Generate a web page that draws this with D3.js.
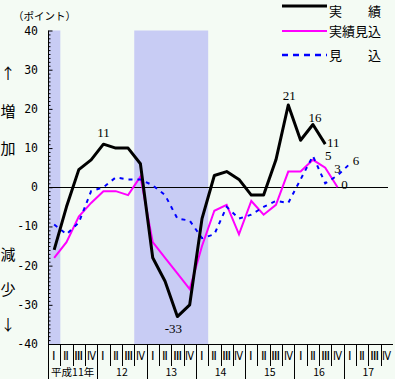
<!DOCTYPE html>
<html><head><meta charset="utf-8">
<script src="https://cdn.jsdelivr.net/npm/d3@7"></script>
<style>html,body{margin:0;padding:0;background:#f4fbf4;}svg{display:block;}</style>
</head><body>
<script>
// ---- data ----
const years = ["平成11年","12","13","14","15","16","17"];
const quarterLabels = ["Ⅰ","Ⅱ","Ⅲ","Ⅳ"];
const yTicks = [40,30,20,10,0,-10,-20,-30,-40];
// 実績 (actual)
const actual = [-16,-5,4.5,7,11,10,10,6,-18,-24,-33,-30,-8,3,4,2,-2,-2,7,21,12,16,11];
// 実績見込 (actual estimate)
const actualEst = [-18,-14,-7.5,-4,-1,-1,-2,2.7,-14,-18,-22,-26,-15,-6,-4.5,-12,-3.5,-7,-4.5,4,4,7,5,0];
// 見込 (forecast)
const forecast = [-9.5,-12,-9,-1,0,2.5,2,2,0.5,-2,-8,-8.5,-13,-12,-5,-8,-7,-5,-3.5,-4,2,8,1,3,6];
// shaded periods (quarter index ranges, inclusive)
const shaded = [[0,0],[7,12]];
const seriesNames = ["実　　績","実績見込","見　　込"];
const labelText = ["11","-33","21","16","11","5","3","0","6"];

const W=395,H=379;
const svg=d3.select("body").append("svg").attr("width",W).attr("height",H);
svg.append("rect").attr("width",W).attr("height",H).attr("fill","#f4fbf4");

const nQ = years.length*4;
const x = d3.scaleLinear().domain([0,nQ]).range([48,393]);
const y = d3.scaleLinear().domain([-40,40]).range([344,30.5]);
const cx = i => x(i+0.5);

// shaded bands
svg.selectAll("rect.band").data(shaded).join("rect").attr("class","band")
  .attr("x",d=>x(d[0])).attr("width",d=>x(d[1]+1)-x(d[0]))
  .attr("y",y(40)).attr("height",y(-40)-y(40)).attr("fill","#c8ccf4");

// zero line
svg.append("line").attr("x1",x(0)).attr("x2",388).attr("y1",Math.round(y(0))+0.5).attr("y2",Math.round(y(0))+0.5)
  .attr("stroke","#000").attr("stroke-width",1);

// y axis
const yAxis = d3.axisRight(y).tickValues(d3.range(-40,41,1)).tickSize(2).tickFormat("");
const yg = svg.append("g").attr("transform","translate(48.5,0)").call(yAxis);
yg.select(".domain").remove();
yg.selectAll(".tick line").attr("stroke","#000").attr("x2",d=>d%10===0?4:2);
svg.append("line").attr("x1",48.5).attr("x2",48.5).attr("y1",y(40)).attr("y2",H).attr("stroke","#000");
svg.selectAll("text.yt").data(yTicks).join("text").attr("class","yt")
  .attr("x",38).attr("y",d=>y(d)).attr("text-anchor","end").attr("dominant-baseline","central")
  .attr("font-family","DejaVu Sans Mono").attr("font-size",11.5).attr("fill","#000").text(d=>d);

svg.append("text").attr("x",13).attr("y",15).attr("dominant-baseline","central")
  .attr("font-family","Noto Sans CJK JP").attr("font-size",10.5).attr("fill","#000").text("（ポイント）");

// vertical side text
const sideChars = [["↑",72],["増",110],["加",147],["減",253],["少",288],["↓",323]];
svg.selectAll("text.side").data(sideChars).join("text").attr("class","side")
  .attr("x",8).attr("y",d=>d[1]).attr("text-anchor","middle").attr("dominant-baseline","central")
  .attr("font-family","Noto Sans CJK JP").attr("font-size",15).attr("fill","#000").text(d=>d[0]);

// x axis
svg.append("line").attr("x1",x(0)).attr("x2",x(nQ)).attr("y1",344.5).attr("y2",344.5).attr("stroke","#000");
const qIdx = d3.range(nQ);
svg.selectAll("line.qsep").data(d3.range(1,nQ)).join("line").attr("class","qsep")
  .attr("x1",d=>Math.round(x(d))+0.5).attr("x2",d=>Math.round(x(d))+0.5)
  .attr("y1",344).attr("y2",d=>d%4===0?H:366).attr("stroke","#000");
svg.selectAll("text.q").data(qIdx).join("text").attr("class","q")
  .attr("x",d=>cx(d)).attr("y",356).attr("text-anchor","middle").attr("dominant-baseline","central")
  .attr("font-family","Liberation Serif").attr("font-size",12).attr("fill","#000")
  .text(d=>quarterLabels[d%4])
  .each(function(d){ if(d%4>=2) d3.select(this).attr("textLength",9).attr("lengthAdjust","spacingAndGlyphs"); });
svg.selectAll("text.yr").data(years).join("text").attr("class","yr")
  .attr("x",(d,i)=>x(i*4+2)).attr("y",376).attr("text-anchor","middle")
  .attr("font-family","Noto Sans CJK JP").attr("font-size",10.5).attr("fill","#000").text(d=>d);

// lines
const line = d3.line().x((d,i)=>cx(i)).y(d=>y(d));
svg.append("path").datum(actualEst).attr("d",line).attr("fill","none").attr("stroke","#ff00ff").attr("stroke-width",2);
svg.append("path").datum(forecast).attr("d",line).attr("fill","none").attr("stroke","#0000ff").attr("stroke-width",2).attr("stroke-dasharray","4,5");
svg.append("path").datum(actual).attr("d",line).attr("fill","none").attr("stroke","#000").attr("stroke-width",3).attr("stroke-linejoin","round");

// data labels: [series, index, dx, dy]
const seriesData=[actual,actualEst,forecast];
const labelPos = [[0,4,0,-12],[0,10,-4,12],[0,19,1,-9],[0,21,2,-7],[0,22,8,-2],[1,22,3,-12],[2,23,0,-7],[1,23,7,-3],[2,24,6,-3]];
svg.selectAll("text.dl").data(labelPos).join("text").attr("class","dl")
  .attr("x",d=>cx(d[1])+d[2]).attr("y",d=>y(seriesData[d[0]][d[1]])+d[3])
  .attr("text-anchor","middle").attr("dominant-baseline","central")
  .attr("font-family","Liberation Serif").attr("font-size",13).attr("fill","#000")
  .text((d,i)=>labelText[i]);

// legend
const legColors=["#000","#ff00ff","#0000ff"], legW=[3,2,2.5], legY=[6,31,55], legTextY=[15.5,36,60];
seriesNames.forEach((n,i)=>{
  const l=svg.append("line").attr("x1",282).attr("x2",327).attr("y1",legY[i]).attr("y2",legY[i])
    .attr("stroke",legColors[i]).attr("stroke-width",legW[i]);
  if(i===2) l.attr("stroke-dasharray","6,5");
  svg.append("text").attr("x",329).attr("y",legTextY[i])
    .attr("font-family","Noto Sans CJK JP").attr("font-size",13).attr("fill","#000").text(n);
});
</script>
</body></html>
